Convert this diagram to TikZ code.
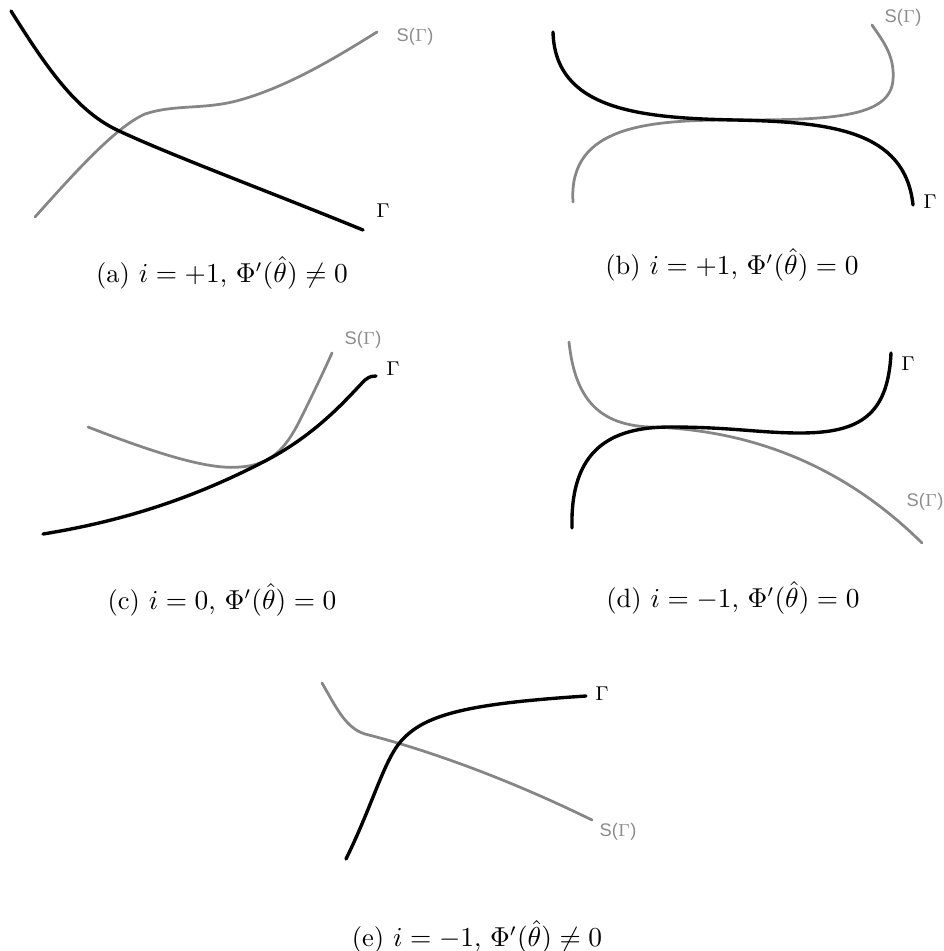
\documentclass[tikz,border=0pt]{standalone}
\usepackage{fontspec}
\newfontfamily\labsans{Liberation Sans}
\begin{document}
\begin{tikzpicture}[x=0.4pt,y=-0.4pt,
  gam/.style={line width=1.35pt,black,line cap=round},
  sgam/.style={line width=1.1pt,gray!95,line cap=round},
  slab/.style={font=\labsans\fontsize{7.3}{8}\selectfont,text=black!45,inner sep=0pt},
  glab/.style={font=\fontsize{7.6}{8}\selectfont,inner sep=0pt},
  captext/.style={font=\fontsize{10.6}{12}\selectfont,inner sep=0pt}]
\useasboundingbox (0,0) rectangle (944,951);
% (a)
\draw[sgam] (35,217) .. controls (70,178) and (115,127) .. (145,114)
  .. controls (175,104) and (205,110) .. (240,100)
  .. controls (290,86) and (340,55) .. (377,32);
\draw[gam] (11,11) .. controls (45,65) and (75,110) .. (117,130)
  .. controls (170,155) and (270,192) .. (363,230);
\node[slab] (la1) at (415,37) {S($\Gamma$)};
\node[glab] (la2) at (383,211) {$\Gamma$};
\node[captext] (ca) at (222,273) {(a) $i=+1$, $\Phi'(\hat\theta)\neq 0$};
% (b)
\draw[sgam] (573,202) .. controls (568,125) and (650,120) .. (735,120)
  .. controls (830,120) and (890,118) .. (893,80)
  .. controls (895,55) and (882,40) .. (872,25);
\draw[gam] (553,32) .. controls (555,110) and (640,118) .. (735,120)
  .. controls (830,122) and (905,130) .. (913,205);
\node[slab] (lb1) at (903,18) {S($\Gamma$)};
\node[glab] (lb2) at (930,202) {$\Gamma$};
\node[captext] (cb) at (732,265) {(b) $i=+1$, $\Phi'(\hat\theta)=0$};
% (c)
\draw[sgam] (88,427) .. controls (160,455) and (210,470) .. (240,467)
  .. controls (270,465) and (285,450) .. (300,420)
  .. controls (312,396) and (322,375) .. (332,353);
\draw[gam] (43,534) .. controls (130,520) and (200,495) .. (267,460)
  .. controls (320,432) and (350,395) .. (365,380)
  .. controls (370,376) and (373,376) .. (376,376);
\node[slab] (lc1) at (363,340) {S($\Gamma$)};
\node[glab] (lc2) at (393,369) {$\Gamma$};
\node[captext] (cc) at (222,600) {(c) $i=0$, $\Phi'(\hat\theta)=0$};
% (d)
\draw[sgam] (569,342) .. controls (575,400) and (600,425) .. (650,427)
  .. controls (720,429) and (825,447) .. (922,543);
\draw[gam] (572,528) .. controls (570,450) and (610,427) .. (670,427)
  .. controls (730,427) and (760,433) .. (800,433)
  .. controls (860,433) and (888,415) .. (891,353);
\node[slab] (ld1) at (925,502) {S($\Gamma$)};
\node[glab] (ld2) at (908,364) {$\Gamma$};
\node[captext] (cd) at (733,598) {(d) $i=-1$, $\Phi'(\hat\theta)=0$};
% (e)
\draw[sgam] (322,683) .. controls (335,705) and (345,728) .. (365,734)
  .. controls (420,748) and (500,775) .. (592,820);
\draw[gam] (346,859) .. controls (375,800) and (385,755) .. (405,737)
  .. controls (430,712) and (480,703) .. (586,696);
\node[slab] (le1) at (618,832) {S($\Gamma$)};
\node[glab] (le2) at (602,694) {$\Gamma$};
\node[captext] (ce) at (477,937) {(e) $i=-1$, $\Phi'(\hat\theta)\neq 0$};
\end{tikzpicture}
\end{document}
